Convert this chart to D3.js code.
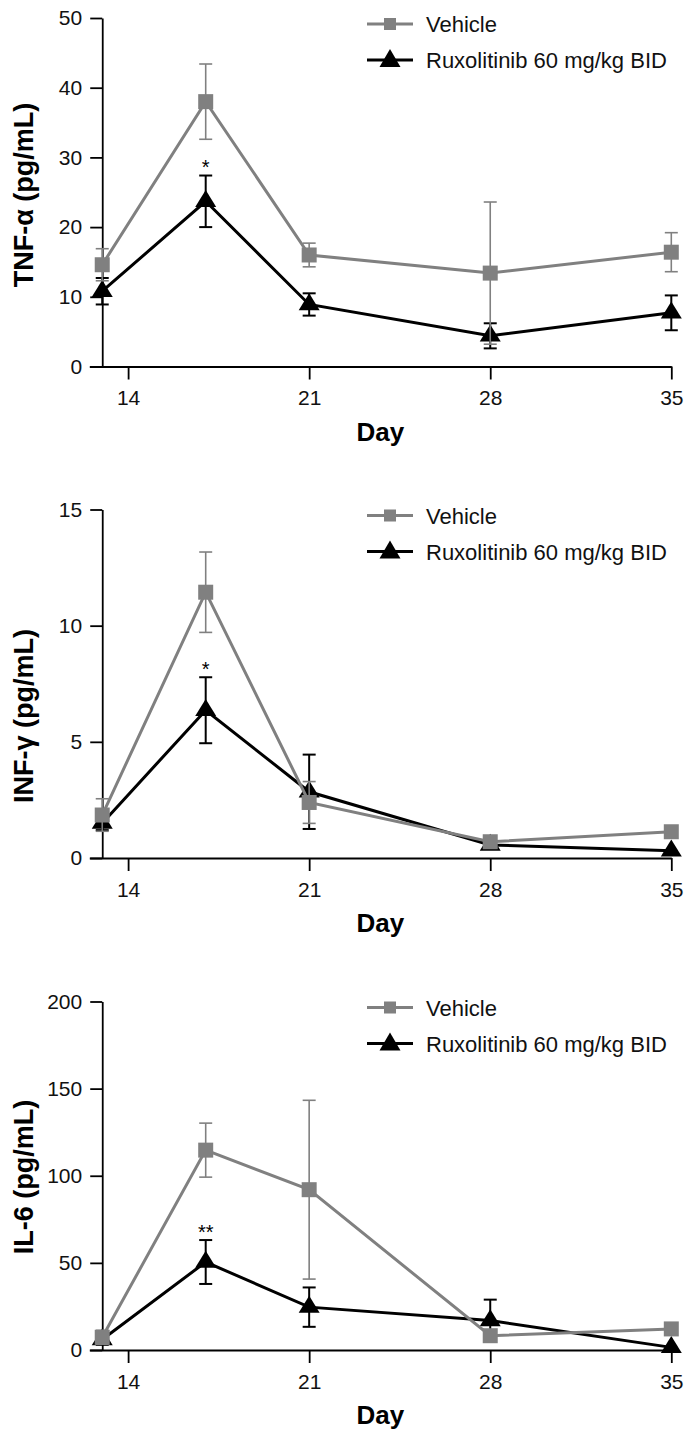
<!DOCTYPE html>
<html>
<head>
<meta charset="utf-8">
<script src="https://cdn.jsdelivr.net/npm/d3@7"></script>
<style>
  html, body { margin: 0; padding: 0; background: #fff; }
  svg { display: block; font-family: Arial, "Liberation Sans", sans-serif; }
</style>
</head>
<body>
<div id="chart"></div>
<script>
// ---------------- DATA ----------------
const days = [13, 17, 21, 28, 35];
const xTickValues = [14, 21, 28, 35];
const seriesNames = ["Vehicle", "Ruxolitinib 60 mg/kg BID"];

const tnfVehicle    = [14.6, 38.0, 16.0, 13.4, 16.4];
const tnfVehicleErr = [2.3, 5.4, 1.7, 10.2, 2.8];
const tnfRux        = [10.8, 23.7, 8.9, 4.4, 7.7];
const tnfRuxErr     = [1.9, 3.7, 1.6, 1.8, 2.5];
const tnfSig        = ["", "*", "", "", ""];
const tnfTicks      = [0, 10, 20, 30, 40, 50];

const infVehicle    = [1.85, 11.44, 2.39, 0.70, 1.13];
const infVehicleErr = [0.7, 1.73, 0.9, 0, 0];
const infRux        = [1.5, 6.36, 2.85, 0.56, 0.31];
const infRuxErr     = [0.3, 1.42, 1.6, 0, 0];
const infSig        = ["", "*", "", "", ""];
const infTicks      = [0, 5, 10, 15];

const il6Vehicle    = [7.3, 114.7, 92.0, 8.2, 12.1];
const il6VehicleErr = [4, 15.5, 51.3, 3, 0];
const il6Rux        = [6, 50.5, 24.6, 16.9, 1.5];
const il6RuxErr     = [3, 12.6, 11.3, 12, 0];
const il6Sig        = ["", "**", "", "", ""];
const il6Ticks      = [0, 50, 100, 150, 200];

const yTitles = ["TNF-\u03B1 (pg/mL)", "INF-\u03B3 (pg/mL)", "IL-6 (pg/mL)"];
const xTitle = "Day";

// ---------------- LAYOUT ----------------
const W = 691, H = 1440;
const panelTops = [18, 509.5, 1001.5];
const plotH = 348.5;
const xLeft = 89.3, xRight = 671.3;
const yTitleCenters = [195, 716, 1177];
const GRAY = "#808080", BLACK = "#000";

const panels = [
  { ticks: tnfTicks, veh: tnfVehicle, vehErr: tnfVehicleErr, rux: tnfRux, ruxErr: tnfRuxErr, sig: tnfSig },
  { ticks: infTicks, veh: infVehicle, vehErr: infVehicleErr, rux: infRux, ruxErr: infRuxErr, sig: infSig },
  { ticks: il6Ticks, veh: il6Vehicle, vehErr: il6VehicleErr, rux: il6Rux, ruxErr: il6RuxErr, sig: il6Sig }
];

const svg = d3.select("#chart").append("svg")
  .attr("width", W).attr("height", H).attr("viewBox", `0 0 ${W} ${H}`);

const x = d3.scaleLinear().domain([12.5, 35]).range([xLeft, xRight]);

const triW = 21, triH = 17;
function triPath(w, h) {
  return `M0,${-2*h/3}L${w/2},${h/3}L${-w/2},${h/3}Z`;
}

panels.forEach((p, i) => {
  const top = panelTops[i], bottom = top + plotH;
  const y = d3.scaleLinear().domain([0, d3.max(p.ticks)]).range([bottom, top]);
  const g = svg.append("g");

  // y axis
  const yAxis = g.append("g")
    .attr("transform", `translate(${x(days[0])},0)`)
    .call(d3.axisLeft(y).tickValues(p.ticks).tickSize(12).tickSizeOuter(0).tickPadding(8));
  // x axis
  const xAxis = g.append("g")
    .attr("transform", `translate(0,${bottom})`)
    .call(d3.axisBottom(x).tickValues(xTickValues).tickSize(13).tickSizeOuter(0).tickPadding(11));
  [yAxis, xAxis].forEach(a => {
    a.selectAll("path.domain").attr("stroke", "#000").attr("stroke-width", 1.8);
    a.selectAll(".tick line").attr("stroke", "#000").attr("stroke-width", 1.8);
    a.selectAll(".tick text").attr("fill", "#111").style("font-size", "21px")
      .style("font-family", "Arial, 'Liberation Sans', sans-serif");
  });

  // y title
  g.append("text")
    .attr("transform", `translate(33,${yTitleCenters[i]}) rotate(-90)`)
    .attr("text-anchor", "middle")
    .style("font-size", "27px").style("font-weight", "bold").attr("fill", "#000")
    .text(yTitles[i]);
  // x title
  g.append("text")
    .attr("x", (xLeft + xRight) / 2).attr("y", bottom + 74)
    .attr("text-anchor", "middle")
    .style("font-size", "26px").style("font-weight", "bold").attr("fill", "#000")
    .text(xTitle);

  const series = [
    { vals: p.rux, errs: p.ruxErr, color: BLACK, ebw: 2, shape: "tri" },
    { vals: p.veh, errs: p.vehErr, color: GRAY, ebw: 1.6, shape: "sq" }
  ];
  series.forEach(s => {
    const pts = days.map((d, k) => ({ d, v: s.vals[k], e: s.errs[k] }));
    const sg = g.append("g");
    // error bars
    pts.filter(q => q.e > 0).forEach(q => {
      const cx = x(q.d);
      sg.append("line").attr("x1", cx).attr("x2", cx)
        .attr("y1", y(q.v - q.e)).attr("y2", y(q.v + q.e))
        .attr("stroke", s.color).attr("stroke-width", s.ebw);
      [q.v - q.e, q.v + q.e].forEach(val => {
        sg.append("line").attr("x1", cx - 6.5).attr("x2", cx + 6.5)
          .attr("y1", y(val)).attr("y2", y(val))
          .attr("stroke", s.color).attr("stroke-width", s.ebw);
      });
    });
    // line
    sg.append("path").datum(pts)
      .attr("d", d3.line().x(q => x(q.d)).y(q => y(q.v)))
      .attr("fill", "none").attr("stroke", s.color).attr("stroke-width", 3)
      .attr("stroke-linejoin", "miter");
    // markers
    pts.forEach(q => {
      if (s.shape === "sq") {
        sg.append("rect").attr("x", x(q.d) - 7.5).attr("y", y(q.v) - 7.5)
          .attr("width", 15).attr("height", 15).attr("fill", s.color);
      } else {
        sg.append("path").attr("d", triPath(triW, triH))
          .attr("transform", `translate(${x(q.d)},${y(q.v)})`).attr("fill", s.color);
      }
    });
  });

  // significance stars
  days.forEach((d, k) => {
    if (p.sig[k]) {
      const yc = y(p.rux[k] + p.ruxErr[k]) - 13;
      g.append("text").attr("x", x(d)).attr("y", yc + 11.5)
        .attr("text-anchor", "middle").style("font-size", "20px").attr("fill", "#000")
        .text(p.sig[k]);
    }
  });

  // legend
  const leg = g.append("g");
  const rows = [
    { name: seriesNames[0], color: GRAY, shape: "sq", yc: top + 6 },
    { name: seriesNames[1], color: BLACK, shape: "tri", yc: top + 42 }
  ];
  rows.forEach(r => {
    leg.append("line").attr("x1", 367).attr("x2", 413).attr("y1", r.yc).attr("y2", r.yc)
      .attr("stroke", r.color).attr("stroke-width", 3);
    if (r.shape === "sq") {
      leg.append("rect").attr("x", 390 - 6).attr("y", r.yc - 6).attr("width", 12).attr("height", 12)
        .attr("fill", r.color);
    } else {
      leg.append("path").attr("d", triPath(21, 18)).attr("transform", `translate(390,${r.yc + 1})`)
        .attr("fill", r.color);
    }
    leg.append("text").attr("x", 426).attr("y", r.yc + 8)
      .style("font-size", "22px").attr("fill", "#111").text(r.name);
  });
});
</script>
</body>
</html>
